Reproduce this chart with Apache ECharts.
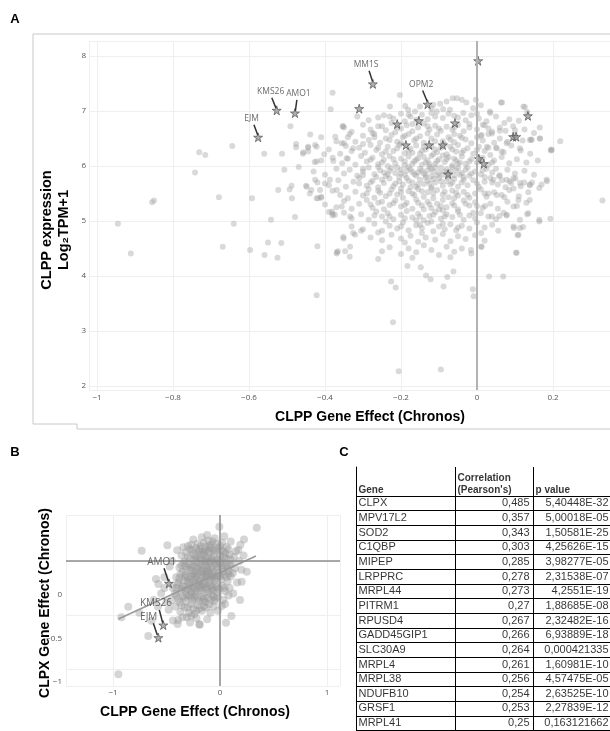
<!DOCTYPE html>
<html>
<head>
<meta charset="utf-8">
<style>
html, body { margin: 0; padding: 0; background: #fff; }
#main { width: 610px; height: 731px; }
</style>
</head>
<body>
<div id="main"></div>
<script src="https://cdn.jsdelivr.net/npm/echarts@6/dist/echarts.min.js"></script>
<script>
// ---- panel A: CLPP gene effect vs CLPP expression ----
var pointsALeft = [
  [-0.945,4.95],[-0.911,4.41],[-0.855,5.34],[-0.85,5.37],[-0.742,5.88],[-0.731,6.25],[-0.715,6.2],
  [-0.679,5.43],[-0.669,4.53],[-0.644,6.36],[-0.64,4.95],[-0.597,4.47],[-0.592,5.41],[-0.56,6.22],
  [-0.559,4.38],[-0.55,4.61],[-0.542,5.02],[-0.525,4.33],[-0.523,5.56],[-0.515,4.6],[-0.513,6.22],
  [-0.507,5.93],[-0.493,5.57],[-0.491,6.72],[-0.488,5.64],[-0.487,5.41],[-0.479,5.07],[-0.476,6.4],
  [-0.476,6.34],[-0.469,5.98],[-0.458,6.22],[-0.444,6.35],[-0.439,6.57],[-0.427,6.07],[-0.41,6.52],
  [-0.45,5.64],[-0.436,5.56],[-0.422,5.41],[-0.42,4.54],[-0.422,3.65],[-0.38,7.33],[-0.385,7.03],
  [-0.373,6.53],[-0.354,6.72],[-0.35,6.41],[-0.4,5.68],[-0.39,5.16],[-0.38,5.13],[-0.369,4.43],
  [-0.366,4.45],[-0.351,4.68],[-0.347,4.45],[-0.335,4.35],[-0.326,4.78],[-0.305,4.82],[-0.457,6.25],
  [-0.445,6.33],[-0.426,6.38],[-0.402,6.21],[-0.378,6.09],[-0.422,6.08],[-0.413,5.56],[-0.41,5.42],
  [-0.422,6.35],[-0.444,6.26],[-0.426,5.75],[-0.448,5.62],[-0.418,5.41],[-0.387,5.75],[-0.382,5.17],
  [-0.374,5.11],[-0.356,5.26],[-0.334,5.08],[-0.352,6.72],[-0.356,6.41],[-0.326,6.32],[-0.343,6.14],
  [-0.369,5.56],[-0.321,4.75],[-0.352,4.71],[-0.369,4.41],[-0.334,4.53]
];
var pointsALow = [
  [-0.221,3.16],[-0.206,2.27],[-0.095,2.3],[-0.226,3.9],[-0.214,3.79],[-0.183,4.18],[-0.148,4.16],
  [-0.134,4.01],[-0.122,3.94],[-0.088,3.81],[-0.078,3.98],[-0.062,4.08],[-0.011,3.76],[-0.009,3.63],
  [0.032,3.99],[0.069,3.99],[0.103,4.42],[-0.016,4.47],[0.011,4.53]
];
var pointsARight = [
  [0.056,4.82],[0.078,5.1],[0.107,4.74],[0.097,4.87],[0.121,4.89],[0.132,5.12],[0.113,5.02],
  [0.164,4.99],[0.193,5.04],[0.33,5.37],[0.184,5.72],[0.194,6.28],[0.219,6.45],[0.165,6.7],
  [0.165,6.5],[0.142,6.48],[0.126,7.07],[0.132,6.98],[0.066,7.15],[0.035,6.96],[0.124,5.7],
  [0.139,5.65],[0.086,5.72],[0.101,5.77],[0.096,5.59],[0.066,5.74],[0.072,5.43],[0.144,6.47],
  [0.166,6.5],[0.195,6.3],
  [0.015,6.75],[0.072,6.78],[0.06,6.64],[0.039,6.59],[0.012,6.56],[0.026,6.35],[0.052,6.32],
  [0.078,6.41],[0.065,6.26],[0.113,6.32],[0.139,6.47],[0.197,6.29],[0.183,5.75],[0.164,5.6],
  [0.139,5.66],[0.113,5.69],[0.096,5.78],[0.078,5.75],[0.058,5.81],[0.043,5.75],[0.03,5.5],
  [0.052,5.47],[0.021,5.27],[0.039,5.08],[0.059,5.09],[0.078,5.11],[0.096,4.9],[0.113,4.87],
  [0.135,5.14],[0.164,5.02],[0.109,4.75],[0.104,4.42],[0.139,5.38],[0.109,5.38],[0.096,5.26],
  [0.012,4.53],[0.011,4.78],[0.1,6.65]
];
var pointsACore = [
  [-0.203,7.29],[-0.229,7.08],[-0.189,7.09],[-0.181,7.02],[-0.163,6.99],[-0.115,7.11],[-0.097,7.13],
  [-0.08,7.17],[-0.064,7.23],[-0.053,7.23],[-0.04,7.2],[-0.028,7.15],[-0.003,7.2],[-0.106,6.99],
  [-0.089,7.03],[-0.071,7.02],[-0.036,6.96],[0.034,6.99],[0.063,7.15],[0.122,7.08],[-0.12,7.05],
  [-0.15,7.08],[-0.01,7.05],[0.01,7.1],
  [-0.26,6.88],[-0.245,6.92],[-0.22,6.86],[-0.2,6.95],[-0.175,6.9],[-0.145,6.93],[-0.13,6.85],
  [-0.11,6.9],[-0.09,6.87],[-0.075,6.95],[-0.05,6.88],[-0.03,6.83],[-0.015,6.92],[0.005,6.86],
  [0.025,6.81],[0.05,6.9],[0.085,6.85],[0.11,6.82],[-0.285,6.83],[-0.315,6.9],[-0.19,6.81],[-0.16,6.84],
  [-0.35,6.7],[-0.33,6.62],[-0.3,6.75],[-0.28,6.66],[-0.26,6.72],[-0.24,6.65],[-0.225,6.78],[-0.2,6.68],
  [-0.185,6.74],[-0.17,6.63],[-0.155,6.7],[-0.14,6.77],[-0.125,6.66],[-0.11,6.73],[-0.095,6.64],
  [-0.08,6.71],[-0.065,6.66],[-0.05,6.75],[-0.035,6.63],[-0.02,6.7],[0.0,6.66],[0.02,6.74],[0.04,6.62],
  [0.06,6.7],[0.075,6.64],[0.095,6.72],[0.125,6.66],[0.15,6.6],[-0.275,6.6],[-0.215,6.61],
  [-0.37,6.45],[-0.34,6.52],[-0.32,6.44],[-0.3,6.55],[-0.285,6.47],[-0.27,6.58],[-0.255,6.42],[-0.24,6.5],
  [-0.225,6.56],[-0.21,6.44],[-0.195,6.52],[-0.18,6.58],[-0.165,6.46],[-0.15,6.54],[-0.14,6.42],
  [-0.12,6.5],[-0.105,6.57],[-0.09,6.45],[-0.075,6.52],[-0.06,6.43],[-0.045,6.55],[-0.03,6.48],
  [-0.015,6.41],[0.0,6.52],[0.015,6.46],[0.03,6.58],[0.045,6.42],[0.06,6.5],[0.08,6.44],[0.1,6.55],
  [0.12,6.46],[-0.2,6.41],[-0.13,6.59],[-0.06,6.58],[-0.335,6.58],
  [-0.39,6.3],[-0.36,6.22],[-0.345,6.36],[-0.33,6.27],[-0.31,6.33],[-0.295,6.24],[-0.28,6.38],
  [-0.265,6.29],[-0.25,6.21],[-0.235,6.35],[-0.22,6.27],[-0.205,6.38],[-0.19,6.23],[-0.175,6.31],
  [-0.16,6.37],[-0.15,6.22],[-0.135,6.3],[-0.12,6.36],[-0.105,6.25],[-0.095,6.33],[-0.08,6.21],
  [-0.065,6.3],[-0.05,6.38],[-0.04,6.24],[-0.025,6.32],[-0.01,6.22],[0.005,6.35],[0.02,6.27],
  [0.035,6.2],[0.05,6.33],[0.07,6.25],[0.09,6.37],[0.115,6.28],[0.14,6.22],[-0.17,6.24],[-0.115,6.21],
  [-0.055,6.26],[-0.14,6.35],[-0.085,6.39],[-0.3,6.4],
  [-0.41,6.1],[-0.38,6.15],[-0.355,6.05],[-0.34,6.13],[-0.32,6.02],[-0.305,6.18],[-0.29,6.08],
  [-0.275,6.15],[-0.26,6.03],[-0.245,6.11],[-0.23,6.18],[-0.215,6.05],[-0.2,6.13],[-0.19,6.01],
  [-0.18,6.17],[-0.165,6.08],[-0.155,6.14],[-0.145,6.02],[-0.13,6.1],[-0.12,6.18],[-0.11,6.04],
  [-0.1,6.12],[-0.085,6.07],[-0.075,6.16],[-0.065,6.01],[-0.055,6.1],[-0.04,6.17],[-0.03,6.04],
  [-0.015,6.12],[0.0,6.06],[0.015,6.15],[0.03,6.02],[0.045,6.1],[0.065,6.16],[0.085,6.05],[0.105,6.12],
  [0.13,6.06],[0.16,6.1],[-0.235,6.0],[-0.14,6.16],[-0.09,6.19],[-0.06,6.13],[-0.17,6.04],[-0.125,6.03],
  [-0.045,6.06],
  [-0.43,5.9],[-0.4,5.84],[-0.37,5.95],[-0.35,5.86],[-0.335,5.93],[-0.315,5.82],[-0.3,5.9],[-0.285,5.97],
  [-0.27,5.85],[-0.255,5.92],[-0.24,5.81],[-0.225,5.96],[-0.215,5.87],[-0.2,5.93],[-0.19,5.83],
  [-0.18,5.98],[-0.17,5.89],[-0.16,5.82],[-0.15,5.95],[-0.14,5.86],[-0.13,5.92],[-0.12,5.81],
  [-0.11,5.97],[-0.1,5.88],[-0.09,5.84],[-0.08,5.94],[-0.07,5.9],[-0.06,5.83],[-0.05,5.96],[-0.04,5.87],
  [-0.03,5.93],[-0.02,5.82],[-0.005,5.9],[0.01,5.85],[0.025,5.95],[0.04,5.88],[0.06,5.83],[0.08,5.93],
  [0.1,5.86],[0.125,5.91],[0.15,5.84],[-0.205,5.8],[-0.155,5.88],[-0.115,5.9],[-0.095,5.97],
  [-0.065,5.98],[-0.035,5.8],[-0.125,5.99],[-0.185,5.91],[-0.245,5.88],
  [-0.42,5.7],[-0.39,5.65],[-0.365,5.74],[-0.345,5.62],[-0.325,5.71],[-0.31,5.78],[-0.29,5.64],
  [-0.275,5.73],[-0.26,5.61],[-0.245,5.69],[-0.23,5.77],[-0.22,5.63],[-0.205,5.72],[-0.195,5.66],
  [-0.185,5.78],[-0.17,5.7],[-0.16,5.62],[-0.15,5.75],[-0.14,5.67],[-0.13,5.73],[-0.12,5.61],[-0.11,5.7],
  [-0.1,5.78],[-0.09,5.64],[-0.08,5.72],[-0.07,5.66],[-0.06,5.76],[-0.05,5.62],[-0.04,5.7],[-0.025,5.65],
  [-0.01,5.74],[0.005,5.62],[0.02,5.71],[0.035,5.78],[0.055,5.66],[0.075,5.61],[0.09,5.69],[0.115,5.63],
  [0.145,5.7],[0.17,5.66],[-0.135,5.79],[-0.075,5.79],[-0.175,5.61],[-0.115,5.76],
  [-0.44,5.5],[-0.41,5.44],[-0.38,5.55],[-0.36,5.47],[-0.34,5.41],[-0.32,5.53],[-0.3,5.46],[-0.285,5.58],
  [-0.27,5.42],[-0.255,5.51],[-0.24,5.45],[-0.225,5.57],[-0.21,5.48],[-0.195,5.42],[-0.18,5.54],
  [-0.165,5.47],[-0.155,5.58],[-0.14,5.44],[-0.13,5.52],[-0.115,5.41],[-0.105,5.56],[-0.09,5.48],
  [-0.075,5.43],[-0.065,5.55],[-0.05,5.46],[-0.035,5.53],[-0.02,5.42],[-0.005,5.5],[0.01,5.57],
  [0.025,5.44],[0.045,5.52],[0.065,5.47],[0.085,5.56],[0.11,5.45],[0.135,5.52],[-0.2,5.59],[-0.12,5.59],
  [-0.06,5.41],
  [-0.4,5.3],[-0.37,5.25],[-0.35,5.36],[-0.33,5.22],[-0.31,5.31],[-0.29,5.38],[-0.275,5.24],[-0.26,5.33],
  [-0.245,5.21],[-0.23,5.29],[-0.215,5.37],[-0.2,5.26],[-0.185,5.33],[-0.17,5.22],[-0.16,5.39],
  [-0.145,5.28],[-0.13,5.35],[-0.12,5.23],[-0.105,5.31],[-0.09,5.38],[-0.08,5.25],[-0.065,5.32],
  [-0.05,5.21],[-0.035,5.37],[-0.02,5.28],[-0.005,5.34],[0.015,5.24],[0.035,5.31],[0.055,5.22],
  [0.08,5.35],[0.105,5.27],[0.13,5.33],[-0.14,5.21],[-0.1,5.21],
  [-0.38,5.1],[-0.35,5.15],[-0.33,5.05],[-0.305,5.12],[-0.285,5.02],[-0.265,5.17],[-0.25,5.08],
  [-0.235,5.14],[-0.22,5.03],[-0.2,5.11],[-0.185,5.18],[-0.17,5.06],[-0.155,5.13],[-0.14,5.01],
  [-0.125,5.09],[-0.11,5.16],[-0.095,5.04],[-0.08,5.12],[-0.065,5.07],[-0.05,5.17],[-0.035,5.02],
  [-0.02,5.1],[-0.005,5.05],[0.01,5.14],[0.03,5.08],[0.05,5.03],[0.07,5.15],[-0.16,5.01],[-0.09,5.19],
  [-0.33,4.9],[-0.3,4.85],[-0.27,4.95],[-0.25,4.82],[-0.23,4.91],[-0.21,4.86],[-0.195,4.97],[-0.18,4.83],
  [-0.16,4.92],[-0.145,4.87],[-0.13,4.96],[-0.115,4.81],[-0.1,4.9],[-0.085,4.85],[-0.07,4.94],
  [-0.055,4.83],[-0.04,4.91],[-0.02,4.86],[0.0,4.97],[0.02,4.88],[0.04,4.93],[-0.24,4.99],[-0.12,4.99],
  [-0.28,4.7],[-0.25,4.65],[-0.225,4.75],[-0.2,4.68],[-0.175,4.73],[-0.155,4.62],[-0.135,4.7],
  [-0.11,4.66],[-0.09,4.76],[-0.07,4.63],[-0.05,4.72],[-0.03,4.67],[-0.005,4.74],[0.02,4.64],
  [-0.19,4.61],[-0.26,4.79],[-0.145,4.78],
  [-0.25,4.45],[-0.23,4.52],[-0.2,4.4],[-0.18,4.5],[-0.16,4.43],[-0.14,4.56],[-0.12,4.47],[-0.1,4.38],
  [-0.08,4.53],[-0.06,4.44],[-0.04,4.5],[-0.015,4.41],[-0.26,4.31],[-0.17,4.33],[-0.07,4.34]
];
var pointsACoreDense = [
  [-0.27,6.52],[-0.23,6.47],[-0.19,6.55],[-0.16,6.5],[-0.11,6.45],[-0.07,6.48],[-0.04,6.51],[0.01,6.55],
  [-0.26,6.33],[-0.24,6.26],[-0.21,6.32],[-0.18,6.27],[-0.145,6.27],[-0.11,6.3],[-0.07,6.35],
  [-0.035,6.28],[0.0,6.29],[0.03,6.33],
  [-0.28,6.11],[-0.25,6.06],[-0.22,6.12],[-0.19,6.08],[-0.16,6.11],[-0.135,6.06],[-0.105,6.09],
  [-0.08,6.12],[-0.05,6.04],[-0.02,6.08],[0.01,6.1],[0.04,6.06],
  [-0.3,5.95],[-0.26,5.98],[-0.23,5.91],[-0.21,5.97],[-0.175,5.94],[-0.145,5.91],[-0.12,5.95],
  [-0.085,5.9],[-0.055,5.92],[-0.025,5.97],[0.015,5.92],[0.05,5.95],
  [-0.3,5.83],[-0.265,5.8],[-0.235,5.85],[-0.2,5.86],[-0.165,5.85],[-0.135,5.83],[-0.105,5.83],
  [-0.075,5.86],[-0.045,5.84],[-0.015,5.86],[0.02,5.8],
  [-0.31,5.68],[-0.28,5.7],[-0.25,5.75],[-0.215,5.68],[-0.18,5.73],[-0.155,5.66],[-0.125,5.68],
  [-0.095,5.72],[-0.065,5.7],[-0.035,5.75],[0.0,5.68],[0.04,5.7],
  [-0.29,5.5],[-0.26,5.55],[-0.23,5.5],[-0.2,5.52],[-0.17,5.5],[-0.145,5.54],[-0.115,5.5],[-0.085,5.53],
  [-0.055,5.51],[-0.025,5.47],[0.02,5.5],
  [-0.28,5.3],[-0.25,5.35],[-0.22,5.32],[-0.19,5.29],[-0.155,5.33],[-0.125,5.3],[-0.095,5.27],
  [-0.06,5.28],[-0.03,5.31],[0.0,5.27],
  [-0.27,5.1],[-0.23,5.08],[-0.19,5.05],[-0.15,5.08],[-0.115,5.11],[-0.085,5.08],[-0.045,5.11],[-0.01,5.15],
  [-0.2,4.9],[-0.15,4.93],[-0.09,4.95],[-0.05,4.88],
  [-0.25,6.72],[-0.21,6.7],[-0.17,6.76],[-0.13,6.72],[-0.1,6.68],[-0.06,6.7],[-0.02,6.76],[0.03,6.68],
  [-0.23,6.9],[-0.18,6.93],[-0.12,6.96],[-0.06,6.91],[0.0,6.95]
];
var starsA = [
  [-0.274,7.49],[-0.13,7.12],[-0.527,7.01],[-0.479,6.96],[-0.576,6.52],[-0.31,7.04],[0.003,7.91],
  [-0.21,6.76],[-0.153,6.82],[-0.058,6.78],[-0.187,6.38],[-0.126,6.38],[-0.09,6.38],[0.095,6.53],
  [0.103,6.53],[0.134,6.91],[0.005,6.13],[0.018,6.04],[-0.076,5.85]
];
var annNamesA = ['MM1S', 'OPM2', 'KMS26', 'AMO1', 'EJM'];
var annTextA = [[-0.292,7.85],[-0.147,7.48],[-0.543,7.35],[-0.47,7.32],[-0.593,6.86]];
var annArrowA = [
  [[-0.284,7.73],[-0.275,7.54]], [[-0.143,7.37],[-0.131,7.17]], [[-0.54,7.24],[-0.529,7.05]],
  [[-0.474,7.2],[-0.478,7.0]], [[-0.587,6.75],[-0.577,6.56]]
];

// ---- panel B: CLPP vs CLPX gene effect ----
var pointsBOut = [
  [-0.006,0.318],[0.343,0.309],[0.224,0.2],[-0.732,0.095],[-0.492,0.145],[-0.343,0.127],[-0.598,-0.167],
  [-0.576,-0.213],[-0.857,-0.423],[-0.922,-0.521],[-0.754,-0.478],[-0.67,-0.694],[-0.95,-1.049],
  [-0.639,-0.553],[0.016,-0.417],[0.047,-0.398],[0.106,-0.509],[0.056,-0.571],[-0.193,-0.586],
  [-0.39,-0.546],[0.171,0.102],[0.203,-0.191],[0.124,-0.3],[0.187,-0.361],[-0.396,-0.583],
  [-0.55,-0.3],[-0.52,-0.15],[-0.5,-0.38],[-0.62,-0.36],[-0.58,-0.42],[-0.47,-0.05],[0.18,0.0],
  [0.2,-0.08],[0.16,-0.2],[0.22,0.05],[-0.4,0.1],[-0.45,0.0],[-0.52,-0.25],[0.25,-0.1],[0.19,0.15]
];
var pointsBCore = [
  [-0.3,0.14],[-0.25,0.2],[-0.21,0.16],[-0.17,0.22],[-0.14,0.13],[-0.11,0.19],[-0.08,0.15],[-0.05,0.21],
  [-0.02,0.12],[0.02,0.17],[0.06,0.13],[0.1,0.18],[-0.19,0.11],[-0.06,0.1],[0.04,0.23],[-0.12,0.24],
  [-0.36,0.05],[-0.32,0.08],[-0.28,0.02],[-0.25,0.07],[-0.22,0.03],[-0.2,0.09],[-0.17,0.01],[-0.15,0.06],
  [-0.13,0.02],[-0.1,0.08],[-0.08,0.03],[-0.06,0.07],[-0.03,0.01],[0.0,0.05],[0.03,0.09],[0.06,0.02],
  [0.09,0.06],[0.13,0.04],[-0.12,0.1],[-0.04,0.09],[-0.26,0.1],[0.15,0.09],
  [-0.38,-0.06],[-0.34,-0.02],[-0.31,-0.08],[-0.29,-0.03],[-0.27,-0.09],[-0.24,-0.05],[-0.22,-0.01],
  [-0.2,-0.07],[-0.18,-0.03],[-0.16,-0.09],[-0.14,-0.04],[-0.12,-0.08],[-0.1,-0.02],[-0.08,-0.06],
  [-0.06,-0.1],[-0.04,-0.03],[-0.02,-0.07],[0.0,-0.02],[0.02,-0.08],[0.05,-0.04],[0.08,-0.09],
  [0.11,-0.03],[0.14,-0.07],[-0.15,0.0],[-0.09,0.0],[-0.23,-0.1],[-0.13,-0.1],
  [-0.41,-0.15],[-0.37,-0.12],[-0.34,-0.18],[-0.32,-0.13],[-0.3,-0.19],[-0.27,-0.14],[-0.25,-0.11],
  [-0.23,-0.17],[-0.21,-0.12],[-0.19,-0.18],[-0.17,-0.13],[-0.15,-0.19],[-0.13,-0.14],[-0.11,-0.11],
  [-0.09,-0.17],[-0.07,-0.12],[-0.05,-0.18],[-0.03,-0.14],[-0.01,-0.11],[0.01,-0.17],[0.04,-0.13],
  [0.07,-0.19],[0.1,-0.14],[-0.2,-0.2],[-0.1,-0.2],[-0.28,-0.2],[0.12,-0.11],
  [-0.44,-0.25],[-0.4,-0.22],[-0.37,-0.28],[-0.35,-0.23],[-0.32,-0.27],[-0.29,-0.22],[-0.27,-0.29],
  [-0.25,-0.24],[-0.22,-0.28],[-0.2,-0.23],[-0.18,-0.27],[-0.16,-0.22],[-0.13,-0.26],[-0.11,-0.29],
  [-0.09,-0.23],[-0.06,-0.27],[-0.04,-0.22],[-0.01,-0.26],[0.02,-0.23],[0.05,-0.28],[0.09,-0.25],
  [-0.15,-0.3],[-0.23,-0.21],
  [-0.45,-0.36],[-0.41,-0.32],[-0.38,-0.38],[-0.35,-0.33],[-0.32,-0.37],[-0.29,-0.32],[-0.26,-0.36],
  [-0.23,-0.31],[-0.2,-0.37],[-0.17,-0.33],[-0.14,-0.38],[-0.11,-0.34],[-0.08,-0.31],[-0.05,-0.37],
  [-0.02,-0.33],[0.03,-0.36],[0.08,-0.32],
  [-0.48,-0.45],[-0.42,-0.42],[-0.37,-0.47],[-0.33,-0.43],[-0.29,-0.48],[-0.25,-0.44],[-0.21,-0.41],
  [-0.17,-0.46],[-0.13,-0.43],[-0.09,-0.48],[-0.06,-0.42],[-0.02,-0.46],
  [-0.44,-0.55],[-0.35,-0.52],[-0.28,-0.57],[-0.22,-0.53],[-0.19,-0.59],[-0.12,-0.54],
  [-0.28,0.11],[-0.23,0.05],[-0.18,0.14],[-0.16,0.08],[-0.09,0.12],[-0.07,0.18],[0.0,0.14],[0.05,0.07],
  [0.08,0.11],[-0.33,0.0],[-0.26,-0.04],[-0.19,0.02],[-0.11,-0.05],[-0.05,-0.01],[0.03,-0.01],
  [0.07,-0.06],[-0.35,-0.1],[-0.3,-0.15],[-0.24,-0.13],[-0.16,-0.15],[-0.12,-0.16],[-0.06,-0.14],
  [0.0,-0.14],[0.06,-0.15],[-0.39,-0.2],[-0.33,-0.24],[-0.26,-0.25],[-0.19,-0.25],[-0.14,-0.22],
  [-0.07,-0.24],[-0.02,-0.29],[-0.42,-0.3],[-0.31,-0.31],[-0.24,-0.34],[-0.15,-0.35],[-0.06,-0.33],
  [-0.36,-0.41],[-0.27,-0.4],[-0.19,-0.44],[-0.1,-0.4],[-0.31,-0.52],[-0.24,-0.49],
  [-0.27,0.15],[-0.22,0.12],[-0.15,0.17],[-0.1,0.14],[-0.03,0.16],[0.01,0.1],[-0.3,0.04],[-0.24,0.01],
  [-0.18,0.06],[-0.14,0.09],[-0.11,0.03],[-0.07,0.01],[-0.01,0.02],[0.04,0.04],[0.1,0.01],[-0.36,-0.04],
  [-0.32,-0.05],[-0.28,-0.06],[-0.21,-0.05],[-0.17,-0.06],[-0.13,-0.01],[-0.09,-0.08],[-0.03,-0.05],
  [0.02,-0.04],[0.09,-0.04],[-0.38,-0.16],[-0.33,-0.15],[-0.26,-0.17],[-0.22,-0.15],[-0.18,-0.1],
  [-0.14,-0.12],[-0.08,-0.14],[-0.04,-0.16],[0.03,-0.1],[0.08,-0.12],[-0.41,-0.25],[-0.36,-0.26],
  [-0.3,-0.26],[-0.24,-0.27],[-0.17,-0.24],[-0.12,-0.24],[-0.08,-0.27],[-0.03,-0.24],[0.04,-0.25],
  [-0.39,-0.35],[-0.33,-0.34],[-0.27,-0.33],[-0.21,-0.34],[-0.16,-0.37],[-0.09,-0.36],[-0.04,-0.35],
  [-0.3,-0.43],[-0.22,-0.46],[-0.15,-0.42],[-0.27,-0.51]
];
var fitLineB = [[-0.95,-0.537],[0.336,0.046]];
var starsB = [[-0.477,-0.207],[-0.53,-0.593],[-0.576,-0.71]];
var annNamesB = ['AMO1', 'KMS26', 'EJM'];
var annTextB = [[-0.545,-0.012],[-0.598,-0.392],[-0.666,-0.516]];
var annArrowB = [
  [[-0.523,-0.068],[-0.483,-0.185]], [[-0.567,-0.454],[-0.536,-0.571]], [[-0.623,-0.577],[-0.586,-0.685]]
];

// ---- panel C: table ----
var tableHeader = ['Gene', 'Correlation\n(Pearson\'s)', 'p value'];
var genes = ['CLPX','MPV17L2','SOD2','C1QBP','MIPEP','LRPPRC','MRPL44','PITRM1','RPUSD4',
  'GADD45GIP1','SLC30A9','MRPL4','MRPL38','NDUFB10','GRSF1','MRPL41'];
var pearson = [0.485,0.357,0.343,0.303,0.285,0.278,0.273,0.27,0.267,0.266,0.264,0.261,0.256,0.254,0.253,0.25];
var pValues = [5.40448e-32,5.00018e-5,1.50581e-25,4.25626e-15,3.98277e-5,2.31538e-7,4.2551e-19,
  1.88685e-8,2.32482e-16,6.93889e-18,0.000421335,1.60981e-10,4.57475e-5,2.63525e-10,2.27839e-12,0.163121662];

var starPath = 'path://M50,0L61,35L98,35L68,57L79,91L50,70L21,91L32,57L2,35L39,35Z';
var plotFont = 'Open Sans';
var boldFont = 'Liberation Sans';

function stepLabel(step) {
  return function (v) {
    var k = v / step;
    if (Math.abs(k - Math.round(k)) > 1e-6) return '';
    return String(+v.toFixed(2)).replace('-', '\u2212');
  };
}
function commaNum(v) {
  return String(v).replace('.', ',');
}
function excelP(v) {
  if (v >= 1e-4) return commaNum(v);
  var parts = v.toExponential().split('e');
  var e = parts[1];
  var sign = e.charAt(0) === '-' ? '-' : '+';
  var digits = e.replace(/[+-]/, '');
  if (digits.length < 2) digits = '0' + digits;
  return parts[0].replace('.', ',') + 'E' + sign + digits;
}
function textAt(x, y, text, font, rot) {
  return { type: 'text', x: x, y: y, rotation: rot || 0, silent: true,
    style: { text: text, font: font, fill: '#000', textAlign: 'center', textVerticalAlign: 'middle',
      align: 'center', verticalAlign: 'middle' } };
}

var myChart = echarts.init(document.getElementById('main'));

var gridLine = { show: true, lineStyle: { color: '#efefef', width: 1 } };
var tickLabel = { fontSize: 8, color: '#555', fontFamily: plotFont };
var hidden = { show: false };
var cellLabel = { show: true, fontSize: 11, color: '#000', fontFamily: boldFont, distance: 0 };
var colBorders = {
  silent: true, symbol: ['none', 'none'], label: { show: false },
  lineStyle: { color: '#000', width: 1, type: 'solid' },
  data: [{ xAxis: 99 }, { xAxis: 177 }]
};

var option = {
  animation: false,
  grid: [
    { left: 89, top: 41, width: 541, height: 349, outerBoundsMode: 'none' },
    { left: 66, top: 515, width: 274, height: 171, outerBoundsMode: 'none' },
    { left: 356, top: 467, width: 260, height: 29, outerBoundsMode: 'none' },
    { left: 356, top: 496, width: 260, height: 234.4, outerBoundsMode: 'none' }
  ],
  xAxis: [
    { gridIndex: 0, type: 'value', min: -1.021, max: 0.4026, minInterval: 0.2, maxInterval: 0.2,
      axisLine: hidden, axisTick: hidden, splitLine: gridLine,
      axisLabel: Object.assign({ margin: 4, formatter: stepLabel(0.2) }, tickLabel) },
    { gridIndex: 1, type: 'value', min: -1.439, max: 1.121, minInterval: 1, maxInterval: 1,
      axisLine: hidden, axisTick: hidden, splitLine: gridLine,
      axisLabel: Object.assign({ margin: 3, formatter: stepLabel(1) }, tickLabel) },
    { gridIndex: 2, type: 'value', min: 0, max: 260, show: false },
    { gridIndex: 3, type: 'value', min: 0, max: 260, show: false }
  ],
  yAxis: [
    { gridIndex: 0, type: 'value', min: 1.927, max: 8.27, minInterval: 1, maxInterval: 1,
      axisLine: hidden, axisTick: hidden, splitLine: gridLine,
      axisLabel: Object.assign({ margin: 3, formatter: stepLabel(1) }, tickLabel) },
    { gridIndex: 1, type: 'value', min: -1.157, max: 0.426, minInterval: 0.5, maxInterval: 0.5,
      axisLine: hidden, axisTick: hidden, axisLabel: hidden, splitLine: gridLine },
    // tick labels of panel B sit where the reference prints them
    { gridIndex: 1, type: 'value', position: 'left', min: -1.046, max: 0.92, minInterval: 0.5, maxInterval: 0.5,
      axisLine: hidden, axisTick: hidden, splitLine: hidden,
      axisLabel: Object.assign({ margin: 4, formatter: function (v) {
        return v < 0.25 ? stepLabel(0.5)(v) : '';
      } }, tickLabel) },
    { gridIndex: 2, type: 'value', min: 0, max: 29, inverse: true,
      axisLine: { show: true, lineStyle: { color: '#000', width: 1 } },
      axisTick: hidden, axisLabel: hidden, splitLine: hidden },
    { gridIndex: 3, type: 'category', data: genes, inverse: true,
      axisLine: { show: true, lineStyle: { color: '#000', width: 1 } },
      axisTick: hidden, axisLabel: hidden,
      splitLine: { show: true, interval: 0, lineStyle: { color: '#000', width: 1 } } }
  ],
  graphic: [
    { type: 'polyline', silent: true, shape: { points: [[640,429],[77,429],[77,424],[33,424],[33,34],[640,34]] },
      style: { stroke: '#c8c8c8', lineWidth: 1, fill: null } },
    textAt(15, 19, 'A', 'bold 13px ' + boldFont),
    textAt(15, 452, 'B', 'bold 13px ' + boldFont),
    textAt(344, 452, 'C', 'bold 13px ' + boldFont),
    textAt(370, 417, 'CLPP Gene Effect (Chronos)', 'bold 14px ' + boldFont),
    textAt(47, 230, 'CLPP expression', 'bold 14.5px ' + boldFont, Math.PI / 2),
    textAt(64, 230, 'Log\u2082TPM+1', 'bold 14.5px ' + boldFont, Math.PI / 2),
    textAt(45, 603, 'CLPX Gene Effect (Chronos)', 'bold 14px ' + boldFont, Math.PI / 2),
    textAt(195, 712, 'CLPP Gene Effect (Chronos)', 'bold 14px ' + boldFont)
  ],
  series: [
    { type: 'scatter', xAxisIndex: 0, yAxisIndex: 0, symbolSize: 6,
      itemStyle: { color: 'rgba(155,155,155,0.48)' },
      data: pointsALeft.concat(pointsALow, pointsARight, pointsACore, pointsACoreDense),
      markLine: { silent: true, symbol: ['none', 'none'], label: { show: false },
        lineStyle: { color: '#b2b2b2', width: 2, type: 'solid' }, data: [{ xAxis: 0 }] } },
    { type: 'scatter', xAxisIndex: 0, yAxisIndex: 0, symbol: starPath, symbolSize: 9, z: 3,
      itemStyle: { color: '#9a9a9a', borderColor: '#444', borderWidth: 0.8 }, data: starsA },
    { type: 'lines', coordinateSystem: 'cartesian2d', xAxisIndex: 0, yAxisIndex: 0, z: 4,
      lineStyle: { color: '#333', width: 1.5, opacity: 1 },
      data: annArrowA.map(function (a) { return { coords: a }; }) },
    { type: 'scatter', xAxisIndex: 0, yAxisIndex: 0, symbolSize: 1, z: 5,
      itemStyle: { color: 'rgba(0,0,0,0)' }, data: annTextA,
      label: { show: true, position: 'inside', fontSize: 8.5, color: '#444', fontFamily: plotFont,
        formatter: function (p) { return annNamesA[p.dataIndex]; } } },

    { type: 'scatter', xAxisIndex: 1, yAxisIndex: 1, symbolSize: 8,
      itemStyle: { color: 'rgba(150,150,150,0.5)' },
      data: pointsBOut.concat(pointsBCore),
      markLine: { silent: true, symbol: ['none', 'none'], label: { show: false },
        lineStyle: { color: '#8c8c8c', width: 1.5, type: 'solid' }, data: [{ xAxis: 0 }, { yAxis: 0 }] } },
    { type: 'line', xAxisIndex: 1, yAxisIndex: 1, data: fitLineB, symbol: 'none', z: 3,
      lineStyle: { color: '#9a9a9a', width: 1.5 } },
    { type: 'scatter', xAxisIndex: 1, yAxisIndex: 1, symbol: starPath, symbolSize: 9, z: 3,
      itemStyle: { color: '#9a9a9a', borderColor: '#444', borderWidth: 0.8 }, data: starsB },
    { type: 'lines', coordinateSystem: 'cartesian2d', xAxisIndex: 1, yAxisIndex: 1, z: 4,
      lineStyle: { color: '#333', width: 1.5, opacity: 1 },
      data: annArrowB.map(function (a) { return { coords: a }; }) },
    { type: 'scatter', xAxisIndex: 1, yAxisIndex: 1, symbolSize: 1, z: 5,
      itemStyle: { color: 'rgba(0,0,0,0)' }, data: annTextB,
      label: { show: true, position: 'inside', fontSize: 10, color: '#444', fontFamily: plotFont,
        formatter: function (p) { return annNamesB[p.dataIndex]; } } },

    { type: 'scatter', xAxisIndex: 2, yAxisIndex: 3, symbolSize: 1,
      itemStyle: { color: 'rgba(0,0,0,0)' },
      data: [[2, 23], [101, 17], [179, 23]],
      label: { show: true, position: 'right', distance: 0, fontSize: 10, fontWeight: 'bold',
        lineHeight: 12, color: '#000', fontFamily: boldFont,
        formatter: function (p) { return tableHeader[p.dataIndex]; } },
      markLine: colBorders },
    { type: 'scatter', xAxisIndex: 3, yAxisIndex: 4, symbolSize: 1,
      itemStyle: { color: 'rgba(0,0,0,0)' },
      data: genes.map(function (g) { return [2, g]; }),
      label: Object.assign({ position: 'right', formatter: function (p) { return genes[p.dataIndex]; } }, cellLabel),
      markLine: colBorders },
    { type: 'scatter', xAxisIndex: 3, yAxisIndex: 4, symbolSize: 1,
      itemStyle: { color: 'rgba(0,0,0,0)' },
      data: genes.map(function (g) { return [174, g]; }),
      label: Object.assign({ position: 'left', formatter: function (p) { return commaNum(pearson[p.dataIndex]); } }, cellLabel) },
    { type: 'scatter', xAxisIndex: 3, yAxisIndex: 4, symbolSize: 1,
      itemStyle: { color: 'rgba(0,0,0,0)' },
      data: genes.map(function (g) { return [253, g]; }),
      label: Object.assign({ position: 'left', formatter: function (p) { return excelP(pValues[p.dataIndex]); } }, cellLabel) }
  ]
};

myChart.setOption(option);
</script>
</body>
</html>
